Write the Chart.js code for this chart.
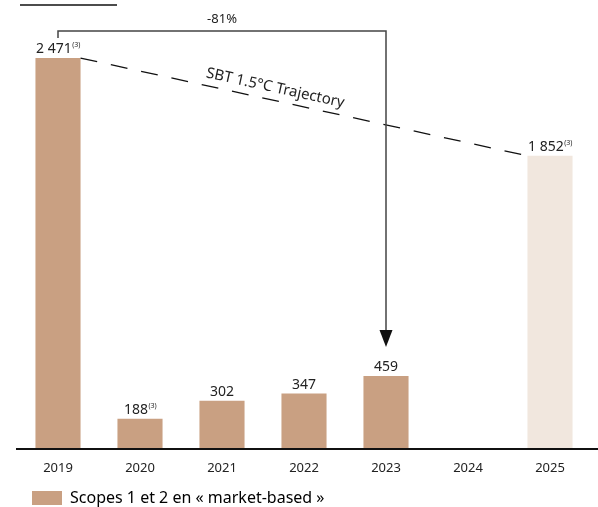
<!DOCTYPE html>
<html>
<head>
<meta charset="utf-8">
<script src="https://cdn.jsdelivr.net/npm/chart.js@4"></script>
<style>
  html, body { margin: 0; padding: 0; background: #fff; }
  #wrap { width: 598px; height: 507px; }
</style>
</head>
<body>
<div id="wrap"><canvas id="myChart" width="598" height="507"></canvas></div>
<script>
// Data
const years = ['2019', '2020', '2021', '2022', '2023', '2024', '2025'];
const emissions = [2471, 188, 302, 347, 459, null, 1852];
const notes = ['(3)', '(3)', '', '', '', '', '(3)'];
const barColors = ['#c9a082', '#c9a082', '#c9a082', '#c9a082', '#c9a082', '#c9a082', '#f1e7de'];
const seriesName = 'Scopes 1 et 2 en « market-based »';
const reductionLabel = '-81%';
const trajectoryLabel = 'SBT 1.5°C Trajectory';

const FONT = '"Noto Sans", sans-serif';

function fmt(v) {
    return String(v).replace(/\B(?=(\d{3})+(?!\d))/g, ' ');
}

// Draws baseline, value labels, the -81% bracket arrow and the SBT trajectory line
const annotations = {
    id: 'annotations',
    afterDatasetsDraw(chart) {
        const ctx = chart.ctx;
        const bars = chart.getDatasetMeta(0).data;
        const area = chart.chartArea;
        ctx.save();

        // cut-off title underline
        ctx.strokeStyle = '#111';
        ctx.lineWidth = 1.5;
        ctx.beginPath();
        ctx.moveTo(20, 5);
        ctx.lineTo(117, 5);
        ctx.stroke();

        // baseline, from the left of the plot to the right edge
        const by = Math.round(chart.scales.y.getPixelForValue(0)) + 1;
        ctx.lineWidth = 2;
        ctx.beginPath();
        ctx.moveTo(area.left - 1, by);
        ctx.lineTo(chart.width, by);
        ctx.stroke();

        // value labels with footnote marks
        ctx.fillStyle = '#222';
        ctx.textBaseline = 'alphabetic';
        emissions.forEach((v, i) => {
            if (v === null) return;
            const b = bars[i];
            const main = fmt(v);
            ctx.font = '14px ' + FONT;
            const w1 = ctx.measureText(main).width;
            ctx.font = '7px ' + FONT;
            const w2 = notes[i] ? ctx.measureText(notes[i]).width : 0;
            const start = b.x - (w1 + w2) / 2;
            const base = b.y - 5;
            ctx.font = '14px ' + FONT;
            ctx.textAlign = 'left';
            ctx.fillText(main, start, base);
            if (notes[i]) {
                ctx.font = '7px ' + FONT;
                ctx.fillText(notes[i], start + w1 + 0.5, base - 6);
            }
        });

        // trajectory dashed line: 2019 bar top right -> 2025 bar top left
        const b0 = bars[0], b6 = bars[6];
        const x1 = b0.x + b0.width / 2, y1 = b0.y;
        const x2 = b6.x - b6.width / 2, y2 = b6.y;
        ctx.strokeStyle = '#111';
        ctx.lineWidth = 1.3;
        ctx.setLineDash([17, 14]);
        ctx.beginPath();
        ctx.moveTo(x1, y1);
        ctx.lineTo(x2, y2);
        ctx.stroke();
        ctx.setLineDash([]);

        const ang = Math.atan2(y2 - y1, x2 - x1);
        const t = 0.43;
        ctx.translate(x1 + (x2 - x1) * t, y1 + (y2 - y1) * t);
        ctx.rotate(ang);
        ctx.font = '15px ' + FONT;
        ctx.textAlign = 'center';
        ctx.textBaseline = 'alphabetic';
        ctx.fillStyle = '#222';
        ctx.fillText(trajectoryLabel, 0, -8);
        ctx.setTransform(1, 0, 0, 1, 0, 0);

        // bracket arrow from 2019 to 2023
        const b4 = bars[4];
        const topY = 31;
        const tipY = b4.y - 29;
        ctx.strokeStyle = '#444';
        ctx.lineWidth = 1.5;
        ctx.beginPath();
        ctx.moveTo(b0.x, 38);
        ctx.lineTo(b0.x, topY);
        ctx.lineTo(b4.x, topY);
        ctx.lineTo(b4.x, tipY - 14);
        ctx.stroke();
        ctx.fillStyle = '#111';
        ctx.beginPath();
        ctx.moveTo(b4.x - 6.5, tipY - 17);
        ctx.lineTo(b4.x + 6.5, tipY - 17);
        ctx.lineTo(b4.x, tipY);
        ctx.closePath();
        ctx.fill();

        ctx.font = '13px ' + FONT;
        ctx.textAlign = 'center';
        ctx.fillStyle = '#222';
        ctx.fillText(reductionLabel, (b0.x + b4.x) / 2, 23);

        ctx.restore();
    }
};

const ctx = document.getElementById('myChart').getContext('2d');

const data = {
    labels: years,
    datasets: [{
        label: seriesName,
        data: emissions,
        backgroundColor: barColors,
        categoryPercentage: 1,
        barPercentage: 0.55
    }]
};

const config = {
    type: 'bar',
    data: data,
    options: {
        responsive: false,
        animation: false,
        layout: { padding: { top: 20, left: 17, right: 7, bottom: -9 } },
        plugins: {
            tooltip: { enabled: false },
            legend: {
                position: 'bottom',
                align: 'start',
                labels: {
                    boxWidth: 30,
                    boxHeight: 14,
                    padding: 15,
                    color: '#222',
                    font: { family: FONT, size: 16 },
                    generateLabels: () => [{
                        text: seriesName,
                        fillStyle: '#c9a082',
                        strokeStyle: '#c9a082',
                        lineWidth: 0
                    }]
                }
            }
        },
        scales: {
            x: {
                grid: { display: false, drawTicks: false },
                border: { display: false },
                ticks: { color: '#222', font: { family: FONT, size: 13 }, padding: 12 },
                afterFit(scale) { scale.height -= 13; }
            },
            y: {
                display: false,
                min: 0,
                max: 2712
            }
        }
    },
    plugins: [annotations]
};

const myChart = new Chart(ctx, config);
</script>
</body>
</html>
